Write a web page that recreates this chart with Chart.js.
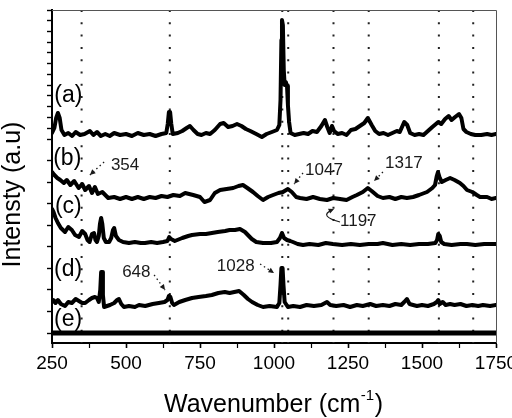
<!DOCTYPE html>
<html><head><meta charset="utf-8">
<script src="https://cdn.jsdelivr.net/npm/chart.js@4.4.1/dist/chart.umd.min.js"></script>
<style>html,body{margin:0;padding:0;background:#fff;overflow:hidden}canvas{display:block}</style>
</head><body>
<canvas id="chart" width="512" height="418"></canvas>
<script>
// ---- data (wavenumber in cm-1, offset intensity in a.u.) ----
const xA = [250,258,264,270,276,282,292,305,318,330,345,360,378,390,402,415,430,445,460,480,500,520,540,560,580,600,620,636,641,645,649,653,658,675,690,705,716,728,742,755,770,784,800,818,830,845,860,875,890,905,920,940,959,975,993,1010,1018,1022,1025,1027,1030,1033,1036,1040,1044,1047,1051,1056,1070,1085,1100,1115,1130,1145,1160,1172,1180,1188,1196,1203,1215,1230,1245,1260,1275,1290,1305,1317,1330,1342,1355,1370,1385,1400,1415,1425,1440,1450,1460,1475,1490,1505,1520,1535,1547,1555,1565,1578,1590,1600,1612,1625,1633,1640,1650,1665,1680,1700,1720,1735,1750];
const yA = [210,215,225,230,225,213,208,210,207,211,208,209,212,208,211,207,209,207,210,208,209,207,210,208,209,207,209,210,219,231,231,219,209,210,212,215,217,213,209,208,210,209,213,219,220,216,217,219,217,214,212,209,206,209,211,213,218,243,303,323,318,273,258,261,257,238,221,210,208,209,210,209,212,211,217,223,216,210,217,212,209,210,208,213,214,217,220,225,218,212,209,210,208,210,212,211,221,218,210,208,209,208,212,216,219,221,219,224,227,223,226,229,225,214,211,209,208,208,209,208,209];

const xB = [250,258,268,278,290,300,312,325,340,352,362,375,385,395,405,420,440,460,480,500,520,540,560,580,600,620,640,660,682,700,727,750,765,784,800,818,840,862,880,895,910,929,945,963,980,997,1015,1030,1047,1060,1075,1088,1110,1132,1155,1179,1200,1223,1245,1265,1280,1300,1317,1330,1350,1368,1390,1410,1430,1449,1470,1490,1517,1535,1544,1550,1554,1560,1567,1580,1595,1610,1628,1640,1652,1670,1685,1696,1720,1735,1750];
const yB = [171,168,165,163,160,163,158,162,155,159,153,157,150,156,149,151,145,146,144,146,144,146,144,146,145,147,146,148,147,150,148,146,141,143,150,153,154,155,157,158,155,151,147,143,146,148,150,151,154,151,146,145,144,146,144,143,145,144,143,146,148,151,155,152,147,145,146,144,146,145,146,148,151,155,158,167,171,165,161,163,165,163,160,157,153,151,148,146,146,144,145];

const xC = [250,255,262,270,280,294,305,317,328,341,352,362,370,377,385,392,397,402,408,412,416,420,425,432,443,450,456,460,466,476,490,510,530,550,564,585,605,625,640,646,652,665,690,710,723,750,770,790,810,835,850,868,885,902,915,925,940,963,990,1010,1020,1027,1034,1044,1055,1064,1080,1098,1120,1150,1175,1199,1230,1260,1290,1320,1350,1368,1400,1430,1460,1490,1520,1545,1551,1555,1560,1565,1575,1600,1630,1652,1680,1710,1750];
const yC = [134,131,125,120,115,111,116,113,108,106,112,109,103,101,109,110,103,101,107,119,125,119,105,101,101,105,113,115,107,103,101,100,101,100,100,101,100,101,102,106,104,102,105,107,108,109,109,110,111,112,113,113,114,111,107,104,101,100,100,101,105,110,105,103,102,101,99,98,99,98,100,99,98,99,98,99,99,100,98,99,98,99,99,100,103,109,107,101,99,98,99,99,98,99,99];

const xD = [250,255,262,270,280,294,305,317,330,341,352,362,375,385,395,402,408,413,416,419,422,426,436,446,460,470,476,484,493,510,530,544,565,590,611,630,640,645,650,656,662,680,700,723,745,770,790,812,834,850,866,882,898,912,926,945,963,985,1010,1018,1022,1025,1029,1032,1036,1047,1065,1088,1110,1135,1160,1179,1190,1210,1235,1257,1280,1300,1325,1345,1368,1390,1410,1430,1440,1449,1458,1470,1483,1500,1520,1540,1550,1555,1560,1570,1580,1595,1610,1630,1650,1670,1690,1706,1730,1750];
const yD = [41,43,40,43,39,37,41,40,44,42,40,40,43,45,46,45,41,53,71,71,48,36,37,38,40,43,44,39,36,37,36,38,37,39,40,41,43,47,46,40,38,41,43,45,46,47,48,50,51,50,51,52,48,44,41,38,36,37,36,40,58,75,75,58,41,36,37,36,38,37,38,41,38,37,38,36,38,37,39,37,38,37,39,38,41,44,39,38,37,38,37,39,41,43,39,41,38,39,38,39,37,38,37,38,37,38];

const xE = [250, 1000, 1750];
const yE = [10, 10, 10];

const curveNames = ['(a)', '(b)', '(c)', '(d)', '(e)'];
const markerWavenumbers = [350, 648, 1028, 1048, 1201, 1320, 1557, 1673];
const peakLabels = ['354', '1047', '1317', '1197', '648', '1028'];
const xTickStep = 125;
const xMin = 250, xMax = 1750, yMin = 0, yMax = 333;

// ---- layout config (positions, not data) ----
const FONT = "'Liberation Sans', Arial, Helvetica, sans-serif";
const curveNamePos = [[258,241],[254,178],[260,130],[257,67],[257,17]];
const peakLabelPos = [[449,173],[1105,168],[1375,175],[1223,117],[487,66],[807,72]];
const arrowPaths = [
  [[426,181],[378,168]],
  [[1098,170],[1068,159]],
  [[1368,171],[1338,162]],
  null,
  [[595,68],[632,53]],
  [[953,79],[1000,70]]
];

function pts(xs, ys){ const n=Math.min(xs.length, ys.length); const o=[]; for(let i=0;i<n;i++) o.push({x:xs[i], y:ys[i]}); return o; }

const traces = [[xA,yA],[xB,yB],[xC,yC],[xD,yD],[xE,yE]];
const datasets = traces.map((t,i)=>({
  data: pts(t[0], t[1]), borderColor:'#000', borderWidth: i===4 ? 5 : 4,
  pointRadius:0, tension:0, fill:false, borderJoinStyle:'round', borderCapStyle:'round'
}));
markerWavenumbers.forEach(w => datasets.push({
  data:[{x:w,y:yMax},{x:w,y:yMin}], borderColor:'#222', borderWidth:2,
  borderDash:[2,10.3], pointRadius:0, fill:false
}));

function arrowHead(ctx, x1, y1, x2, y2){
  const a = Math.atan2(y2-y1, x2-x1), L = 5.5, W = 2.6;
  ctx.setLineDash([]);
  ctx.beginPath();
  ctx.moveTo(x2, y2);
  ctx.lineTo(x2 - L*Math.cos(a) + W*Math.sin(a), y2 - L*Math.sin(a) - W*Math.cos(a));
  ctx.lineTo(x2 - L*Math.cos(a) - W*Math.sin(a), y2 - L*Math.sin(a) + W*Math.cos(a));
  ctx.closePath(); ctx.fill();
}

const decor = {
  id: 'decor',
  afterDraw(chart){
    const ctx = chart.ctx, xs = chart.scales.x, ys = chart.scales.y, ca = chart.chartArea;
    const px = v => xs.getPixelForValue(v), py = v => ys.getPixelForValue(v);
    ctx.save();
    // frame top / right
    ctx.strokeStyle = '#555'; ctx.lineWidth = 1;
    ctx.beginPath();
    ctx.moveTo(ca.left, ca.top + 0.5); ctx.lineTo(ca.right + 0.5, ca.top + 0.5); ctx.lineTo(ca.right + 0.5, ca.bottom);
    ctx.stroke();

    // curve names
    ctx.fillStyle = '#000'; ctx.textAlign = 'left'; ctx.textBaseline = 'alphabetic';
    ctx.font = '23px ' + FONT;
    curveNames.forEach((s,i) => ctx.fillText(s, px(curveNamePos[i][0]), py(curveNamePos[i][1])));

    // peak labels
    ctx.fillStyle = '#1a1a1a'; ctx.font = '17px ' + FONT;
    peakLabels.forEach((s,i) => ctx.fillText(s, px(peakLabelPos[i][0]), py(peakLabelPos[i][1])));

    // arrows
    ctx.strokeStyle = '#1a1a1a'; ctx.fillStyle = '#1a1a1a'; ctx.lineWidth = 1.3;
    arrowPaths.forEach(p => {
      if (!p) return;
      const x1 = px(p[0][0]), y1 = py(p[0][1]), x2 = px(p[1][0]), y2 = py(p[1][1]);
      ctx.setLineDash([1.5, 3]);
      ctx.beginPath(); ctx.moveTo(x1, y1); ctx.lineTo(x2, y2); ctx.stroke();
      arrowHead(ctx, x1, y1, x2, y2);
    });
    // curved arrow for 1197
    {
      const sx = px(1223), sy = py(121), cx = px(1149), cy = py(127), ex = px(1203), ey = py(134);
      ctx.setLineDash([]); ctx.lineWidth = 1.2;
      ctx.beginPath(); ctx.moveTo(sx, sy); ctx.quadraticCurveTo(cx, cy, ex - 2, ey + 1); ctx.stroke();
      arrowHead(ctx, cx, cy, ex, ey);
    }

    // x title with superscript
    ctx.fillStyle = '#000'; ctx.setLineDash([]);
    const f1 = '25px ' + FONT, f2 = '15px ' + FONT;
    const t1 = 'Wavenumber (cm', t2 = '-1', t3 = ')';
    ctx.font = f1; const w1 = ctx.measureText(t1).width, w3 = ctx.measureText(t3).width;
    ctx.font = f2; const w2 = ctx.measureText(t2).width;
    let x0 = (ca.left + ca.right) / 2 - 1 - (w1 + w2 + w3) / 2;
    const base = 412;
    ctx.font = f1; ctx.fillText(t1, x0, base);
    ctx.font = f2; ctx.fillText(t2, x0 + w1 + 0.5, base - 12);
    ctx.font = f1; ctx.fillText(t3, x0 + w1 + w2 + 1, base);

    // y title
    ctx.save();
    ctx.translate(20, 194.5); ctx.rotate(-Math.PI/2);
    ctx.textAlign = 'center'; ctx.font = '25px ' + FONT;
    ctx.fillText('Intensty (a.u)', 0, 0);
    ctx.restore();
    ctx.restore();
  }
};

new Chart(document.getElementById('chart'), {
  type: 'line',
  data: { datasets },
  plugins: [decor],
  options: {
    responsive: false, animation: false, devicePixelRatio: 1,
    layout: { padding: { top: 10, right: 16, left: 0, bottom: 0 } },
    plugins: { legend: { display: false }, tooltip: { enabled: false } },
    scales: {
      x: {
        type: 'linear', min: xMin, max: xMax,
        ticks: {
          stepSize: xTickStep, autoSkip: false, maxRotation: 0, padding: 4,
          color: '#000', font: { family: FONT, size: 19 },
          callback: v => (v % 250 === 0 ? String(v) : '')
        },
        grid: { drawOnChartArea: false, drawTicks: true, tickLength: 5, tickColor: '#000',
                tickWidth: c => (c.tick && c.tick.value % 250 === 0 ? 1.6 : 1.2) },
        border: { display: true, color: '#000', width: 2 },
        afterFit: s => { s.height = 75; s.paddingLeft = 0; s.paddingRight = 0; }
      },
      y: {
        type: 'linear', min: yMin, max: yMax,
        ticks: { display: false },
        afterBuildTicks: s => {
          const t = [];
          for (let k = 0; k <= 15; k++) t.push({ value: Math.min(10 + k*21.55, yMax) });
          for (let k = 9; k < 15; k++) t.push({ value: 10 + (k + 0.5)*21.55 });
          t.sort((a,b) => a.value - b.value);
          s.ticks = t;
        },
        grid: { drawOnChartArea: false, drawTicks: true, tickLength: 5, tickColor: '#000', tickWidth: 1.4 },
        border: { display: true, color: '#000', width: 2 },
        afterFit: s => { s.width = 52; s.paddingTop = 0; s.paddingBottom = 0; }
      }
    }
  }
});
</script>
</body></html>
